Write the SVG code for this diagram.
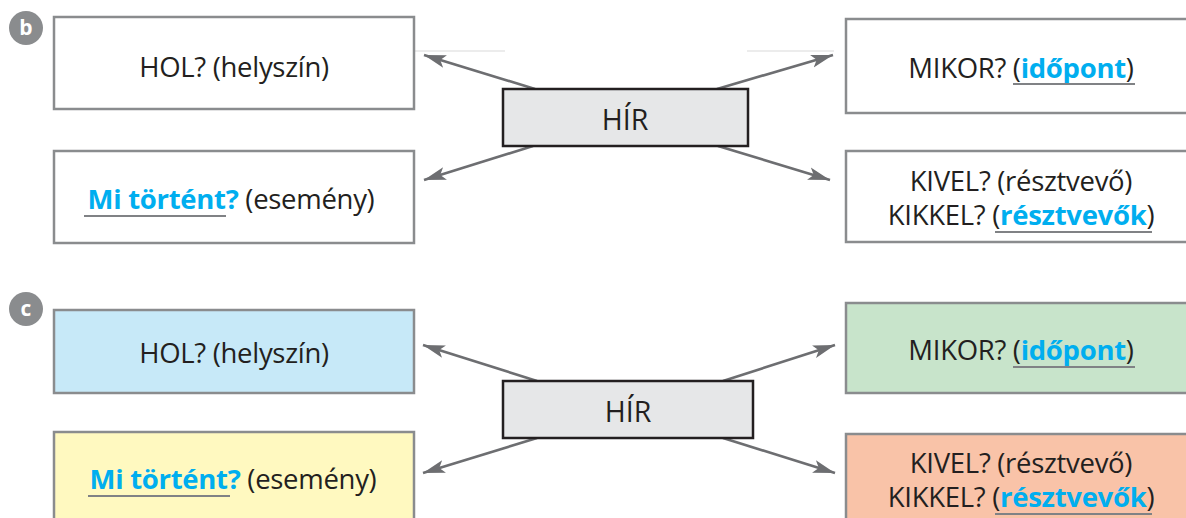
<svg xmlns="http://www.w3.org/2000/svg" width="1186" height="518" viewBox="0 0 1186 518">
<style>
.box{stroke:#8a8c8e;stroke-width:2.5}
.hir{fill:#e6e7e8;stroke:#231f20;stroke-width:2.5}
.t{font-family:"Open Sans","Noto Sans",sans-serif;font-size:27.5px;fill:#231f20;letter-spacing:-0.3px}
.th{font-family:"Open Sans","Noto Sans",sans-serif;font-size:28.5px;fill:#231f20}
.b{font-weight:bold;fill:#00aeef}
.ul{stroke:#808285;stroke-width:2.2}
.arr{stroke:#6d6e71;stroke-width:2.6;fill:none;marker-end:url(#ah)}
.badge{fill:#8a8c8e}
.bt{font-family:"Open Sans","Liberation Sans",sans-serif;font-size:21px;font-weight:bold;fill:#ffffff}
.faint{stroke:#d9d9d9;stroke-width:1}
</style>
<defs>
<marker id="ah" markerUnits="userSpaceOnUse" markerWidth="24" markerHeight="16" viewBox="0 0 24 16" refX="22" refY="8" orient="auto">
<path d="M0,1.5 L22,8 L0,14.5 L5,8 Z" fill="#6d6e71"/>
</marker>
</defs>
<rect width="1186" height="518" fill="#ffffff"/>

<g id="panel-b">
<g id="badge-b"><circle class="badge" cx="26" cy="28" r="17"/><text class="bt" x="26" y="35" text-anchor="middle">b</text></g>
<line class="faint" x1="391" y1="51" x2="505" y2="51"/>
<line class="faint" x1="747" y1="51" x2="834" y2="51"/>
<g id="b-hol"><rect class="box" x="54" y="17" width="360" height="92" fill="#ffffff"/><text class="t" x="234" y="77" text-anchor="middle">HOL? (helyszín)</text></g>
<g id="b-mi"><rect class="box" x="54" y="151" width="360" height="92" fill="#ffffff"/><text class="t" x="231" y="209" text-anchor="middle"><tspan class="b">Mi történt?</tspan> (esemény)</text><line class="ul" x1="84" y1="216" x2="226" y2="216"/></g>
<g id="b-mikor"><rect class="box" x="846" y="19" width="360" height="94" fill="#ffffff"/><text class="t" x="1021" y="78" text-anchor="middle">MIKOR? (<tspan class="b">időpont</tspan>)</text><line class="ul" x1="1013" y1="84" x2="1135" y2="84"/></g>
<g id="b-kivel"><rect class="box" x="846" y="151" width="360" height="91" fill="#ffffff"/><text class="t" x="1021" y="191" text-anchor="middle">KIVEL? (résztvevő)</text><text class="t" x="1021" y="225" text-anchor="middle">KIKKEL? (<tspan class="b">résztvevők</tspan>)</text><line class="ul" x1="995" y1="232" x2="1152" y2="232"/></g>
<g id="b-connectors">
<line class="arr" x1="535" y1="89" x2="424" y2="55"/>
<line class="arr" x1="717" y1="89" x2="833" y2="55"/>
<line class="arr" x1="533" y1="146" x2="424" y2="180"/>
<line class="arr" x1="718" y1="146" x2="830" y2="180"/>
</g>
<g id="b-hir"><rect class="hir" x="503" y="89" width="245" height="57"/><text class="th" x="625" y="130" text-anchor="middle">HÍR</text></g>
</g>

<g id="panel-c">
<g id="badge-c"><circle class="badge" cx="26" cy="309" r="17"/><text class="bt" x="26" y="316" text-anchor="middle">c</text></g>
<g id="c-hol"><rect class="box" x="54" y="310" width="360" height="83" fill="#c7e9f8"/><text class="t" x="234" y="363" text-anchor="middle">HOL? (helyszín)</text></g>
<g id="c-mi"><rect class="box" x="54" y="432" width="360" height="100" fill="#fff9c0"/><text class="t" x="233" y="489" text-anchor="middle"><tspan class="b">Mi történt?</tspan> (esemény)</text><line class="ul" x1="88" y1="496" x2="230" y2="496"/></g>
<g id="c-mikor"><rect class="box" x="846" y="303" width="360" height="90" fill="#c8e4cb"/><text class="t" x="1021" y="360" text-anchor="middle">MIKOR? (<tspan class="b">időpont</tspan>)</text><line class="ul" x1="1013" y1="367" x2="1135" y2="367"/></g>
<g id="c-kivel"><rect class="box" x="846" y="434" width="360" height="100" fill="#f9c3a8"/><text class="t" x="1021" y="473" text-anchor="middle">KIVEL? (résztvevő)</text><text class="t" x="1021" y="507" text-anchor="middle">KIKKEL? (<tspan class="b">résztvevők</tspan>)</text><line class="ul" x1="995" y1="514" x2="1152" y2="514"/></g>
<g id="c-connectors">
<line class="arr" x1="537" y1="381" x2="423" y2="345"/>
<line class="arr" x1="723" y1="381" x2="835" y2="345"/>
<line class="arr" x1="537" y1="438" x2="423" y2="473"/>
<line class="arr" x1="723" y1="438" x2="835" y2="473"/>
</g>
<g id="c-hir"><rect class="hir" x="503" y="381" width="250" height="57"/><text class="th" x="628" y="422" text-anchor="middle">HÍR</text></g>
</g>
</svg>
